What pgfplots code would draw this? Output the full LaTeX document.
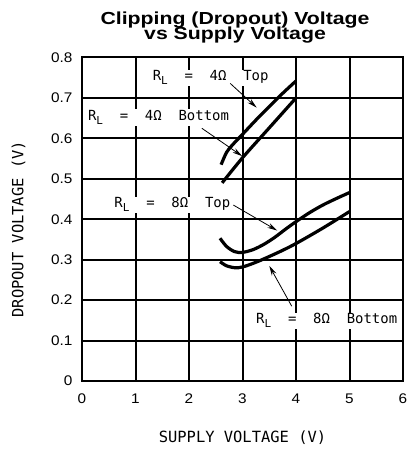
\documentclass[border=0pt]{standalone}
\usepackage{fontspec}
\setmainfont{Liberation Sans}
\newfontfamily\titlefont{Liberation Sans}[FakeStretch=1.22]
\newfontfamily\strokefont{DejaVu Sans Mono}
\newfontfamily\tickfont{Liberation Sans}[FakeStretch=1.1]
\usepackage{pgfplots}
\pgfplotsset{compat=1.18}
\usetikzlibrary{arrows.meta}

\newcommand{\RL}{R\raisebox{-4bp}{\fontsize{11}{11}\selectfont L}}
\tikzset{anno/.style={fill=white, inner sep=1bp, anchor=base west, font=\strokefont\fontsize{14}{14}\selectfont},
         arr/.style={-{Stealth[length=10bp,width=5bp]}, line width=0.8bp},
         crv/.style={black, line width=3.2bp, smooth, no markers}}

\begin{document}
\begin{tikzpicture}
\begin{axis}[
  name=ax, scale only axis, width=321bp, height=323.5bp,
  xmin=0, xmax=6, ymin=0, ymax=0.8,
  xtick={0,1,2,3,4,5,6}, xticklabels={0,1,2,3,4,5,6},
  ytick={0,0.1,0.2,0.3,0.4,0.5,0.6,0.7,0.8},
  yticklabels={0,0.1,0.2,0.3,0.4,0.5,0.6,0.7,0.8},
  major tick length=0pt,
  xmajorgrids=true, ymajorgrids=true,
  major grid style={draw=black, line width=2bp, opacity=1},
  axis line style={line width=2bp},
  ticklabel style={font=\tickfont\fontsize{14}{14}\selectfont},
  xticklabel style={yshift=-9bp}, yticklabel style={xshift=-6bp},
  clip=false,
]
% R_L = 4 Ohm Top
\addplot[crv] coordinates {(2.6,0.535) (2.7,0.565) (2.8,0.582) (3.0,0.610) (3.3,0.652) (3.7,0.705) (4.0,0.742)};
% R_L = 4 Ohm Bottom
\addplot[crv] coordinates {(2.62,0.490) (3.0,0.552) (3.5,0.626) (4.0,0.700)};
% R_L = 8 Ohm Top
\addplot[crv] coordinates {(2.58,0.353) (2.7,0.333) (2.85,0.320) (3.0,0.318) (3.2,0.325) (3.4,0.338) (3.6,0.355) (3.8,0.375) (4.0,0.394) (4.25,0.416) (4.5,0.435) (4.75,0.451) (5.0,0.466)};
% R_L = 8 Ohm Bottom
\addplot[crv] coordinates {(2.58,0.295) (2.7,0.285) (2.86,0.280) (3.0,0.282) (3.2,0.291) (3.4,0.302) (3.7,0.320) (4.0,0.340) (4.5,0.378) (5.0,0.419)};

\node[anno] at (axis cs:1.30,0.742) {\RL~~=~~4Ω~~Top};
\node[anno] at (axis cs:0.09,0.644) {\RL~~=~~4Ω~~Bottom};
\node[anno] at (axis cs:0.585,0.428) {\RL~~=~~8Ω~~Top};
\node[anno] at (axis cs:3.234,0.141) {\RL~~=~~8Ω~~Bottom};

\draw[arr] (axis cs:2.77,0.736) -- (axis cs:3.265,0.676);
\draw[arr] (axis cs:2.24,0.625) -- (axis cs:2.995,0.556);
\draw[arr] (axis cs:2.83,0.435) -- (axis cs:3.65,0.372);
\draw[arr] (axis cs:3.92,0.185) -- (axis cs:3.50,0.285);

\node[font=\strokefont\fontsize{15.5}{15.5}\selectfont] at ([yshift=-57bp]rel axis cs:0.5,0) {SUPPLY VOLTAGE (V)};
\node[font=\strokefont\fontsize{15.5}{15.5}\selectfont, rotate=90] at ([xshift=-63.5bp,yshift=-10bp]rel axis cs:0,0.5) {DROPOUT VOLTAGE (V)};
\node[anchor=base, font=\titlefont\bfseries\fontsize{17.5}{17.5}\selectfont, inner sep=0pt] at ([xshift=-7.5bp,yshift=32.5bp]rel axis cs:0.5,1) {Clipping (Dropout) Voltage};
\node[anchor=base, font=\titlefont\bfseries\fontsize{17.5}{17.5}\selectfont, inner sep=0pt] at ([xshift=-7.5bp,yshift=17.5bp]rel axis cs:0.5,1) {vs Supply Voltage};
\end{axis}
\pgfresetboundingbox
\path[use as bounding box] ([xshift=-82bp,yshift=-70bp]ax.south west) rectangle ([xshift=8bp,yshift=57.5bp]ax.north east);
\end{tikzpicture}
\end{document}
